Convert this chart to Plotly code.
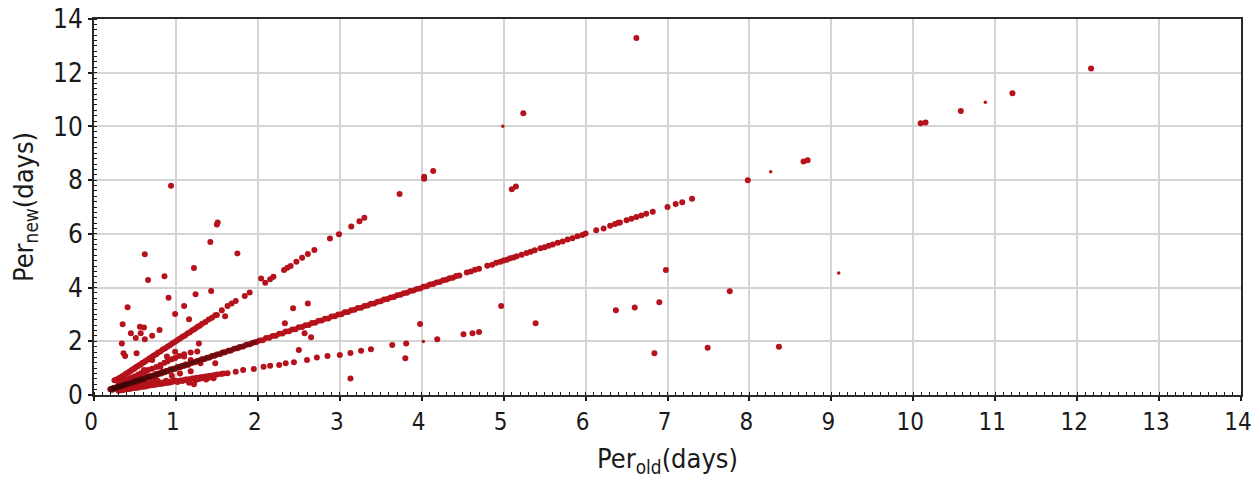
import plotly.graph_objects as go

# Period pairs (old estimate, new estimate) in days, grouped by branch.

# points along Per_new ~ Per_old, dense part near the origin
main_near = [
    (0.20, 0.21), (0.21, 0.22), (0.22, 0.20), (0.23, 0.24), (0.24, 0.26), (0.25, 0.23),
    (0.26, 0.27), (0.27, 0.28), (0.28, 0.27), (0.29, 0.30), (0.30, 0.31), (0.31, 0.29),
    (0.32, 0.33), (0.33, 0.34), (0.34, 0.33), (0.35, 0.36), (0.36, 0.37), (0.37, 0.35),
    (0.38, 0.39), (0.39, 0.40), (0.40, 0.38), (0.41, 0.42), (0.42, 0.43), (0.44, 0.43),
    (0.45, 0.47), (0.46, 0.45), (0.47, 0.45), (0.48, 0.49), (0.50, 0.51), (0.51, 0.50),
    (0.52, 0.50), (0.53, 0.55), (0.55, 0.54), (0.56, 0.57), (0.57, 0.58), (0.58, 0.57),
    (0.60, 0.62), (0.61, 0.60), (0.62, 0.60), (0.64, 0.65), (0.66, 0.65), (0.67, 0.68),
    (0.68, 0.70), (0.70, 0.69), (0.72, 0.73), (0.74, 0.72), (0.76, 0.78), (0.78, 0.77),
    (0.80, 0.81), (0.82, 0.80), (0.84, 0.86), (0.86, 0.85), (0.88, 0.89), (0.90, 0.88),
    (0.93, 0.95), (0.95, 0.94), (0.97, 0.98), (1.00, 0.99), (1.02, 1.04), (1.05, 1.03),
    (1.07, 1.08), (1.10, 1.09), (1.12, 1.14), (1.15, 1.13), (1.18, 1.19), (1.20, 1.21),
    (1.23, 1.22), (1.26, 1.27), (1.29, 1.28), (1.32, 1.33), (1.35, 1.34), (1.38, 1.39),
    (1.41, 1.40), (1.44, 1.45), (1.47, 1.46), (1.50, 1.51), (1.54, 1.53), (1.57, 1.58),
    (1.60, 1.59), (1.64, 1.65), (1.67, 1.66), (1.71, 1.72), (1.75, 1.74), (1.78, 1.79),
    (1.82, 1.81), (1.86, 1.87), (1.90, 1.89), (1.94, 1.95), (1.98, 1.97),
]

# points along Per_new ~ Per_old, beyond 2 days
main_far = [
    (2.02, 2.03), (2.06, 2.04), (2.10, 2.12), (2.14, 2.13), (2.18, 2.20), (2.22, 2.21),
    (2.26, 2.28), (2.30, 2.29), (2.34, 2.36), (2.38, 2.37), (2.42, 2.44), (2.46, 2.45),
    (2.50, 2.52), (2.54, 2.53), (2.58, 2.60), (2.62, 2.61), (2.66, 2.68), (2.70, 2.69),
    (2.74, 2.76), (2.78, 2.77), (2.82, 2.84), (2.86, 2.85), (2.90, 2.92), (2.94, 2.93),
    (2.98, 3.00), (3.02, 3.01), (3.06, 3.08), (3.10, 3.09), (3.14, 3.16), (3.18, 3.17),
    (3.22, 3.24), (3.26, 3.25), (3.30, 3.31), (3.34, 3.33), (3.38, 3.40), (3.42, 3.41),
    (3.46, 3.47), (3.50, 3.49), (3.54, 3.56), (3.58, 3.57), (3.62, 3.63), (3.66, 3.65),
    (3.70, 3.71), (3.74, 3.73), (3.78, 3.79), (3.82, 3.81), (3.86, 3.87), (3.90, 3.89),
    (3.94, 3.95), (3.98, 3.97), (4.02, 4.03), (4.06, 4.05), (4.10, 4.11), (4.14, 4.13),
    (4.18, 4.19), (4.22, 4.21), (4.26, 4.27), (4.30, 4.29), (4.34, 4.35), (4.38, 4.37),
    (4.42, 4.43), (4.46, 4.45), (4.55, 4.56), (4.60, 4.60), (4.65, 4.66), (4.70, 4.70),
    (4.80, 4.81), (4.86, 4.85), (4.91, 4.92), (4.96, 4.96), (5.00, 5.01), (5.04, 5.04),
    (5.08, 5.09), (5.12, 5.12), (5.16, 5.17), (5.22, 5.22), (5.28, 5.29), (5.33, 5.33),
    (5.38, 5.39), (5.45, 5.46), (5.50, 5.50), (5.55, 5.56), (5.60, 5.60), (5.66, 5.67),
    (5.72, 5.72), (5.78, 5.79), (5.84, 5.84), (5.90, 5.91), (5.96, 5.96), (6.00, 6.01),
    (6.13, 6.13), (6.22, 6.20), (6.30, 6.30), (6.36, 6.37), (6.40, 6.41), (6.42, 6.42),
    (6.50, 6.51), (6.56, 6.56), (6.62, 6.63), (6.68, 6.68), (6.74, 6.75), (6.82, 6.82),
    (7.00, 7.00), (7.10, 7.11), (7.18, 7.18), (7.30, 7.31),
]

# points along Per_new ~ 2 x Per_old
double_branch = [
    (0.25, 0.55), (0.27, 0.56), (0.29, 0.60), (0.31, 0.63), (0.33, 0.66), (0.35, 0.71),
    (0.37, 0.74), (0.39, 0.79), (0.41, 0.82), (0.43, 0.87), (0.45, 0.90), (0.47, 0.95),
    (0.49, 0.98), (0.51, 1.03), (0.53, 1.06), (0.55, 1.11), (0.57, 1.14), (0.59, 1.19),
    (0.61, 1.22), (0.63, 1.27), (0.66, 1.32), (0.68, 1.37), (0.71, 1.42), (0.73, 1.47),
    (0.76, 1.52), (0.78, 1.57), (0.81, 1.62), (0.84, 1.69), (0.87, 1.74), (0.90, 1.81),
    (0.93, 1.86), (0.96, 1.93), (0.99, 1.98), (1.02, 2.05), (1.05, 2.10), (1.08, 2.17),
    (1.11, 2.22), (1.14, 2.29), (1.17, 2.34), (1.20, 2.41), (1.23, 2.46), (1.26, 2.53),
    (1.29, 2.58), (1.32, 2.65), (1.36, 2.72), (1.40, 2.81), (1.44, 2.88), (1.48, 2.97),
    (1.50, 2.98), (1.56, 3.16), (1.63, 3.31), (1.68, 3.41), (1.73, 3.50), (1.84, 3.69),
    (1.90, 3.82), (2.04, 4.34), (2.09, 4.18), (2.15, 4.31), (2.19, 4.40), (2.32, 4.65),
    (2.36, 4.74), (2.40, 4.80), (2.47, 4.96), (2.54, 5.11), (2.61, 5.25), (2.69, 5.40),
    (2.88, 5.83), (2.99, 5.99), (3.14, 6.27), (3.24, 6.47), (3.30, 6.60),
]

# band between the 1x and 2x branches close to the origin
middle_band = [
    (0.30, 0.45), (0.34, 0.50), (0.38, 0.55), (0.42, 0.60), (0.46, 0.65), (0.50, 0.70),
    (0.54, 0.76), (0.58, 0.82), (0.62, 0.86), (0.66, 0.93), (0.71, 0.98), (0.76, 1.04),
    (0.81, 1.12), (0.86, 1.20), (0.90, 1.26), (0.95, 1.33), (0.99, 1.38), (1.04, 1.45),
    (1.10, 1.52), (1.18, 1.58), (1.26, 1.62),
]

# points along Per_new ~ Per_old / 2
half_branch = [
    (0.30, 0.16), (0.33, 0.18), (0.36, 0.19), (0.40, 0.21), (0.43, 0.22), (0.46, 0.24),
    (0.50, 0.26), (0.53, 0.27), (0.56, 0.29), (0.60, 0.31), (0.63, 0.32), (0.66, 0.34),
    (0.70, 0.36), (0.73, 0.37), (0.76, 0.39), (0.80, 0.41), (0.83, 0.42), (0.86, 0.44),
    (0.90, 0.46), (0.93, 0.47), (0.96, 0.49), (1.00, 0.51), (1.03, 0.52), (1.06, 0.54),
    (1.10, 0.56), (1.13, 0.57), (1.16, 0.59), (1.20, 0.61), (1.23, 0.62), (1.26, 0.64),
    (1.30, 0.66), (1.33, 0.67), (1.36, 0.69), (1.40, 0.71), (1.43, 0.72), (1.46, 0.74),
    (1.50, 0.76), (1.55, 0.78), (1.58, 0.80), (1.63, 0.81), (1.73, 0.87), (1.82, 0.93),
    (1.95, 0.97), (2.07, 1.05), (2.15, 1.09), (2.26, 1.12), (2.34, 1.18), (2.44, 1.22),
    (2.60, 1.30), (2.72, 1.40), (2.85, 1.45), (3.00, 1.49), (3.13, 1.56), (3.26, 1.65),
    (3.38, 1.70), (3.64, 1.86), (3.81, 1.92), (4.19, 2.08), (4.51, 2.26), (4.62, 2.30),
    (4.70, 2.35),
]

# short-period cluster under the 1x branch
low_cluster = [
    (0.42, 0.32), (0.48, 0.40), (0.52, 0.46), (0.58, 0.44), (0.62, 0.50), (0.66, 0.42),
    (0.70, 0.48), (0.74, 0.45), (0.78, 0.52), (0.84, 0.47), (0.88, 0.53), (0.92, 0.49),
    (0.97, 0.55), (1.02, 0.48), (1.08, 0.52), (1.12, 0.58), (1.16, 0.46), (1.22, 0.40),
    (1.24, 0.55), (1.28, 0.60), (1.32, 0.62), (1.37, 0.58), (1.41, 0.65), (1.46, 0.62),
    (0.55, 0.62), (0.65, 0.68), (0.75, 0.63), (0.95, 0.72), (1.05, 0.80), (1.18, 0.88),
]

# isolated stars
outliers = [
    (6.62, 13.29), (12.17, 12.16), (11.21, 11.24), (10.58, 10.57), (10.09, 10.12),
    (10.15, 10.15), (8.66, 8.69), (8.71, 8.74), (7.98, 8.00), (5.24, 10.49),
    (4.03, 8.13), (4.03, 8.05), (4.14, 8.34), (5.10, 7.66), (5.15, 7.76),
    (3.73, 7.48), (0.94, 7.79), (1.50, 6.35), (1.51, 6.42), (1.42, 5.70),
    (1.75, 5.27), (0.62, 5.24), (0.66, 4.28), (0.86, 4.42), (1.22, 4.73),
    (1.24, 3.75), (1.43, 3.87), (0.91, 3.62), (0.41, 3.27), (1.10, 3.31),
    (0.99, 3.02), (1.16, 2.82), (0.35, 2.63), (0.56, 2.54), (0.61, 2.51),
    (0.45, 2.30), (0.57, 2.30), (0.80, 2.42), (0.71, 2.21), (0.51, 2.12),
    (0.62, 2.08), (0.34, 1.92), (0.36, 1.55), (0.38, 1.45), (0.52, 1.55),
    (1.28, 1.92), (1.60, 2.93), (2.43, 3.23), (2.61, 3.41), (2.33, 2.67),
    (2.57, 2.30), (2.65, 2.15), (2.50, 1.68), (3.13, 0.61), (3.80, 1.37),
    (3.98, 2.64), (4.97, 3.31), (5.39, 2.67), (6.98, 4.65), (7.76, 3.86),
    (6.37, 3.16), (6.60, 3.26), (6.90, 3.45), (6.84, 1.55), (7.49, 1.76),
    (8.36, 1.80), (1.18, 1.30), (1.30, 1.18), (1.48, 1.18), (0.89, 1.43),
    (0.99, 1.61), (0.71, 1.30), (0.81, 1.05), (0.61, 0.93), (1.10, 1.43),
]

# faint detections drawn with smaller symbols
faint = [(4.99, 10.01), (8.26, 8.31), (10.88, 10.90), (9.09, 4.54), (4.02, 1.99)]

x_ticks = list(range(0, 15))
y_ticks = list(range(0, 15, 2))

RED = "#b5121b"
FONT = "DejaVu Sans Condensed, Roboto Condensed, Roboto, sans-serif"
INK = "#1a1a1a"


def cols(pairs):
    return [p[0] for p in pairs], [p[1] for p in pairs]


fig = go.Figure()

for group in (main_near, main_far, double_branch, middle_band, half_branch,
              low_cluster, outliers):
    gx, gy = cols(group)
    fig.add_trace(go.Scatter(x=gx, y=gy, mode="markers",
                             marker=dict(size=6, color=RED, line=dict(width=0)),
                             hoverinfo="x+y", showlegend=False))

# darker overlay where the 1x branch is most crowded
nx, ny = cols(main_near)
fig.add_trace(go.Scatter(x=nx, y=ny, mode="markers",
                         marker=dict(size=6, color="rgba(45,6,6,0.30)", line=dict(width=0)),
                         hoverinfo="skip", showlegend=False))

fx, fy = cols(faint)
fig.add_trace(go.Scatter(x=fx, y=fy, mode="markers",
                         marker=dict(size=3.5, color=RED, line=dict(width=0)),
                         hoverinfo="x+y", showlegend=False))

axis_common = dict(
    showgrid=True, gridcolor="#d4d4d4", gridwidth=2,
    showline=True, linecolor="#2a2a2a", linewidth=2, mirror=True,
    zeroline=False, automargin=False, ticklabeloverflow="allow",
    ticks="outside", ticklen=4, tickwidth=1.5, tickcolor=INK,
)

fig.update_xaxes(
    range=[0, 14], tickvals=x_ticks, ticktext=[str(v) for v in x_ticks],
    tickfont=dict(family=FONT, size=24, color=INK), ticklabelshift=-3,
    minor=dict(dtick=0.1, ticks="inside", ticklen=3, tickwidth=1.2,
               tickcolor=INK, showgrid=False),
    title=dict(text="Per<sub>old</sub>(days)", font=dict(family=FONT, size=27, color=INK),
               standoff=18),
    **axis_common,
)
fig.update_yaxes(
    range=[0, 14], tickvals=y_ticks, ticktext=[str(v) for v in y_ticks],
    tickfont=dict(family=FONT, size=26, color=INK),
    minor=dict(dtick=0.2, ticks="inside", ticklen=3, tickwidth=1.2,
               tickcolor=INK, showgrid=False),
    title=dict(text="Per<sub>new</sub>(days)", font=dict(family=FONT, size=27, color=INK),
               standoff=12),
    **axis_common,
)

fig.update_layout(
    width=1253, height=478,
    margin=dict(l=94, r=12, t=19, b=83),
    plot_bgcolor="white", paper_bgcolor="white",
    font=dict(family=FONT),
)

fig.write_html("out.html")
